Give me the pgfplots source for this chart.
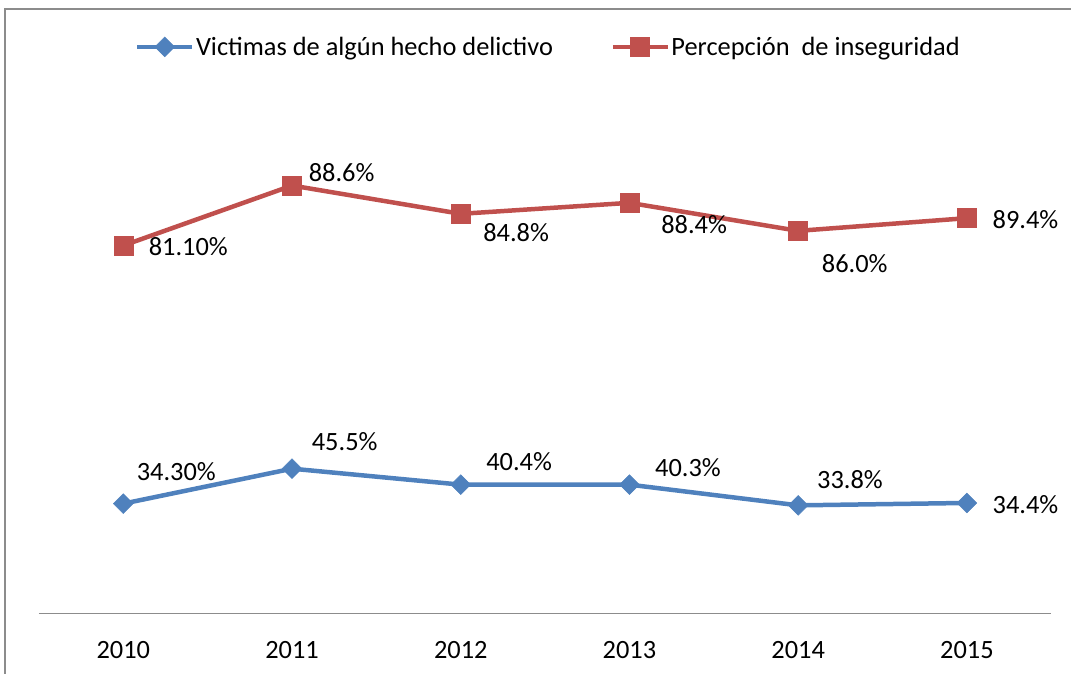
\documentclass[border=0pt]{standalone}
\usepackage{fontspec}
\setmainfont{Carlito}
\usepackage{pgfplots}
\pgfplotsset{compat=1.18}
\definecolor{vblue}{HTML}{4F81BD}
\definecolor{pred}{HTML}{C0504D}
\definecolor{framegray}{HTML}{8C8C8C}

\begin{document}
\begin{tikzpicture}[font=\fontsize{26.5}{31}\selectfont]
\begin{axis}[
  width=1013bp, height=534bp, scale only axis,
  xmin=-0.5, xmax=5.5, ymin=0, ymax=100,
  axis x line*=bottom, axis y line=none,
  x axis line style={draw=framegray, line width=1.5bp, -},
  xtick={0,1,2,3,4,5},
  xticklabels={2010,2011,2012,2013,2014,2015},
  xtick style={draw=none},
  xticklabel style={yshift=-24bp},
  ytick=\empty,
  clip=false,
  legend style={at={(rel axis cs:0.503,1.0618)}, anchor=center, draw=none,
    font=\fontsize{26.5}{31}\selectfont,
    nodes={inner xsep=1.5bp},
    /tikz/every even column/.append style={column sep=56bp}},
  legend columns=2,
  legend image code/.code={\draw[mark repeat=2,mark phase=2,#1]
    plot coordinates {(0bp,0bp) (27.5bp,0bp) (55bp,0bp)};},
]
% Victimas de algun hecho delictivo
\addplot[vblue, line width=4.5bp, mark=square*, mark size=7bp,
  mark options={solid, rotate=45, line width=0.5bp}]
  coordinates {(0,20.60) (1,27.15) (2,24.16) (3,24.16) (4,20.28) (5,20.73)};
\addlegendentry{Victimas de algún hecho delictivo}
% Percepcion de inseguridad
\addplot[pred, line width=4.5bp, mark=square*, mark size=9.5bp,
  mark options={solid, line width=0.5bp}]
  coordinates {(0,68.97) (1,80.21) (2,74.91) (3,76.97) (4,71.72) (5,74.10)};
\addlegendentry{Percepción\ \ de inseguridad}

% data labels
\node at (axis cs:0.385,68.78) {81.10\%};
\node at (axis cs:1.294,82.64) {88.6\%};
\node at (axis cs:2.328,71.35) {84.8\%};
\node at (axis cs:3.383,72.85) {88.4\%};
\node at (axis cs:4.335,65.67) {86.0\%};
\node at (axis cs:5.347,73.78) {89.4\%};
\node at (axis cs:0.314,26.54) {34.30\%};
\node at (axis cs:1.312,32.15) {45.5\%};
\node at (axis cs:2.346,28.52) {40.4\%};
\node at (axis cs:3.347,27.28) {40.3\%};
\node at (axis cs:4.307,25.09) {33.8\%};
\node at (axis cs:5.347,20.41) {34.4\%};

% chart area frame (clipped at right and bottom)
\draw[framegray, line width=1.5bp] (rel axis cs:-0.03356,-0.11236)
  -- (rel axis cs:-0.03356,1.13296) -- (rel axis cs:1.01974,1.13296);
\coordinate (ll) at (rel axis cs:-0.0385,-0.11236);
\coordinate (ur) at (rel axis cs:1.01974,1.14981);
\end{axis}
\path[use as bounding box] (ll) rectangle (ur);
\end{tikzpicture}
\end{document}
